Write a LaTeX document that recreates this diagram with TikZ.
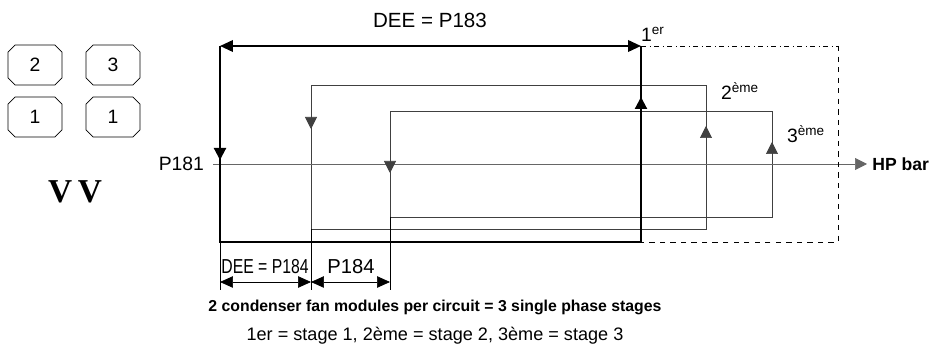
\documentclass[tikz,border=0pt]{standalone}
\usepackage{fontspec}
\setmainfont{Liberation Sans}
\newfontfamily\vvfont{Liberation Serif}
\usetikzlibrary{shapes.misc,arrows.meta,positioning,calc}
\definecolor{loopgray}{rgb}{0.25,0.25,0.25}
\definecolor{bargray}{rgb}{0.40,0.40,0.40}
\tikzset{
  modbox/.style={chamfered rectangle, chamfered rectangle xsep=0.07cm, chamfered rectangle ysep=0.07cm, draw, thin,
    minimum width=1.08cm, minimum height=0.8cm, inner sep=0pt, font=\fontsize{11}{13}\selectfont},
  lbl/.style={inner sep=1pt, font=\fontsize{11}{13}\selectfont},
  tip/.style={-{Triangle[length=0.24cm,width=0.24cm]}},
  dimarrow/.style={{Triangle[length=0.26cm,width=0.23cm]}-{Triangle[length=0.26cm,width=0.23cm]}}
}

\begin{document}
\begin{tikzpicture}[x=0.02cm,y=-0.02cm]
    \useasboundingbox (0,0) rectangle (931,354);

    % Fan modules
    \node[modbox] (m2) at (35,65) {2};
    \node[modbox] (m3) at (113,65) {3};
    \node[modbox] (m1a) at (35,117) {1};
    \node[modbox] (m1b) at (113,117) {1};
    \node[font=\vvfont\bfseries\fontsize{19}{22}\selectfont] (vv) at (75,192) {V\,V};

    % Corners of the stages
    \coordinate (tl) at (220,46);
    \coordinate (tr) at (641,46);
    \coordinate (br) at (641,242);
    \coordinate (bl) at (220,242);
    \coordinate (dr) at (838,46);
    \coordinate (dbr) at (838,242);

    % Stage 2 and 3 loops
    \draw[loopgray, thin] (311,85) rectangle (706,229);
    \draw[loopgray, thin] (390,111) rectangle (772,217);

    % HP bar
    \node[lbl, anchor=east] (p181) at (206,164) {P181};
    \node[lbl, anchor=west, inner sep=0pt, font=\bfseries\fontsize{10}{12}\selectfont] (hp) at (872,164) {HP bar};
    \draw[bargray, thin, tip] (p181.east) ++(7,0) -- ([xshift=-0.1cm]hp.west);

    % Stage 1
    \draw[dash dot] (tr) -- (dr);
    \draw[dashed] (dr) -- (dbr) -- (br);
    \draw[line width=1.4pt] (tl) -- (bl) -- (br) -- (tr);
    \draw[line width=1.2pt, dimarrow] (tl) -- (tr);

    % Flow arrows
    \draw[line width=1.2pt, tip] (220,145) -- (220,160);
    \draw[line width=1.2pt, tip] (641,112) -- (641,97);
    \draw[loopgray, tip] (311,114) -- (311,129);
    \draw[loopgray, tip] (390,158) -- (390,173);
    \draw[loopgray, tip] (706,140) -- (706,126);
    \draw[loopgray, tip] (772,156) -- (772,142);

    % Labels
    \node[lbl, font=\fontsize{11.7}{14}\selectfont] (dee183) at (430,20) {DEE = P183};
    \node[lbl, anchor=west] (s1) at (639,34) {1\textsuperscript{er}};
    \node[lbl, anchor=west] (s2) at (719,91) {2\textsuperscript{ème}};
    \node[lbl, anchor=west] (s3) at (785,134) {3\textsuperscript{ème}};

    % Bottom dimensions
    \coordinate (e1) at (220,290);
    \coordinate (e2) at (311,290);
    \coordinate (e3) at (390,290);
    \draw[thin] (bl) -- (e1);
    \draw[thin] (311,229) -- (e2);
    \draw[thin] (390,217) -- (e3);
    \draw[thin, dimarrow] (220,282) -- (311,282);
    \draw[thin, dimarrow] (311,282) -- (390,282);
    \node[lbl, font=\fontsize{11.5}{13}\selectfont] (dee184) at (265,267) {\scalebox{0.78}[1]{DEE = P184}};
    \node[lbl, font=\fontsize{11.5}{13}\selectfont] (p184) at (351,267) {P184};

    % Legend
    \node[font=\bfseries\fontsize{9}{11}\selectfont] (note) at (435,307) {2 condenser fan modules per circuit = 3 single phase stages};
    \node[lbl, font=\fontsize{10.3}{12}\selectfont] (key) at (435,336) {1er = stage 1, 2ème = stage 2, 3ème = stage 3};
\end{tikzpicture}
\end{document}
